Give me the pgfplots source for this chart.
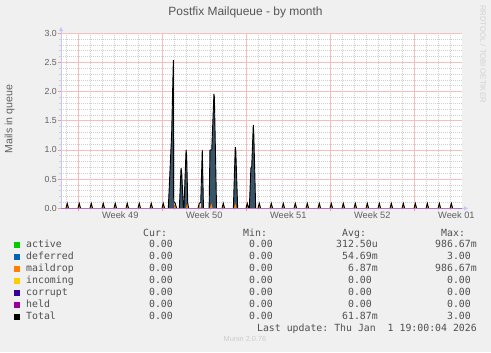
\documentclass[border=0pt]{standalone}
\usepackage{fontspec}
\setmainfont{Liberation Sans}
\setmonofont{DejaVu Sans Mono}
\usepackage{pgfplots}
\pgfplotsset{compat=1.18}
\usetikzlibrary{arrows.meta}
\definecolor{bg}{HTML}{F0F0F0}
\definecolor{gridred}{HTML}{F6BEBE}
\definecolor{tickred}{HTML}{F09A9A}
\definecolor{gridgray}{HTML}{D0D0D0}
\definecolor{axblue}{HTML}{C4C8F2}
\definecolor{titlegray}{HTML}{555555}
\definecolor{labgray}{HTML}{606060}
\definecolor{leggray}{HTML}{505050}
\definecolor{cactive}{HTML}{00CC00}
\definecolor{cdeferred}{HTML}{0066B3}
\definecolor{cmaildrop}{HTML}{FF8000}
\definecolor{cincoming}{HTML}{FFCC00}
\definecolor{ccorrupt}{HTML}{330099}
\definecolor{cheld}{HTML}{990099}
\definecolor{deffill}{HTML}{3A5468}
\definecolor{heldline}{HTML}{B070C8}
\newcommand{\mono}{\fontsize{9.9}{11}\selectfont\ttfamily}
\begin{document}
\begin{tikzpicture}[x=1bp,y=1bp]
\fill[bg] (0,0) rectangle (491,352);
\begin{axis}[
  at={(61bp,143.7bp)}, anchor=south west,
  scale only axis, width=401bp, height=175bp,
  xmin=-1.44, xmax=31.97, ymin=0, ymax=3,
  axis background/.style={fill=white},
  axis line style={draw=none},
  unbounded coords=jump,
  xmajorgrids=true, ymajorgrids=true, xminorgrids=true, yminorgrids=true,
  minor grid style={draw=gridgray, dash pattern=on 1bp off 1bp, line width=0.7bp},
  major grid style={draw=gridred, solid, line width=0.8bp},
  tick align=outside, xtick pos=bottom, ytick pos=left,
  major tick length=3bp, minor tick length=2bp,
  major tick style={draw=tickred, line width=0.8bp},
  minor tick style={draw=gridgray, line width=0.7bp},
  xtick={0,7,14,21,28}, xticklabels={},
  minor xtick={-1,1,2,3,4,5,6,8,9,10,11,12,13,15,16,17,18,19,20,22,23,24,25,26,27,29,30,31},
  extra x ticks={3.5,10.5,17.5,24.5,31.5},
  extra x tick labels={Week 49,Week 50,Week 51,Week 52,Week 01},
  extra x tick style={grid=none, major tick length=0pt},
  xticklabel style={font=\fontsize{9.3}{10}\selectfont, text=labgray, inner sep=0pt, yshift=-3.5bp, anchor=north},
  ytick={0,0.5,1,1.5,2,2.5,3},
  yticklabels={0.0,0.5,1.0,1.5,2.0,2.5,3.0},
  minor ytick={0.1,0.2,0.3,0.4,0.6,0.7,0.8,0.9,1.1,1.2,1.3,1.4,1.6,1.7,1.8,1.9,2.1,2.2,2.3,2.4,2.6,2.7,2.8,2.9},
  yticklabel style={font=\fontsize{8.8}{10}\selectfont, text=labgray, inner sep=0pt, anchor=east, xshift=-1bp},
]
% deferred (area)
\addplot[draw=none, fill=deffill] coordinates {
(-1.5,0) (7.5,0) (7.78,1.29) (7.92,2.54) (7.95,0.1) (8.1,0)
(8.42,0) (8.56,0.69) (8.62,0.6) (8.75,0) (8.8,0) (8.98,1.0) (9.03,0.9) (9.14,0)
(10.2,0) (10.33,1.0) (10.43,0)
(10.9,0) (10.97,1.0) (11.12,1.0) (11.3,1.96) (11.34,1.9) (11.52,0)
(12.92,0) (13.08,1.05) (13.12,1.0) (13.28,0)
(14.25,0) (14.38,0.69) (14.45,0.72) (14.58,1.43) (14.62,1.3) (14.78,0) (32.5,0)
} \closedcycle;
% maildrop (area)
\addplot[draw=none, fill=cmaildrop] coordinates {
(-1.5,0)
(-1.03,0) (-0.92,0.085) (-0.81,0)
(-0.03,0) (0.08,0.085) (0.19,0)
(0.97,0) (1.08,0.085) (1.19,0)
(1.97,0) (2.08,0.085) (2.19,0)
(2.97,0) (3.08,0.085) (3.19,0)
(3.97,0) (4.08,0.085) (4.19,0)
(4.97,0) (5.08,0.085) (5.19,0)
(5.97,0) (6.08,0.085) (6.19,0)
(6.97,0) (7.08,0.085) (7.19,0)
(7.97,0) (8.08,0.085) (8.19,0)
(8.97,0) (9.08,0.085) (9.19,0)
(9.97,0) (10.08,0.085) (10.19,0)
(10.97,0) (11.08,0.085) (11.19,0)
(11.97,0) (12.08,0.085) (12.19,0)
(12.97,0) (13.08,0.085) (13.19,0)
(13.97,0) (14.08,0.085) (14.19,0)
(14.97,0) (15.08,0.085) (15.19,0)
(15.97,0) (16.08,0.085) (16.19,0)
(16.97,0) (17.08,0.085) (17.19,0)
(17.97,0) (18.08,0.085) (18.19,0)
(18.97,0) (19.08,0.085) (19.19,0)
(19.97,0) (20.08,0.085) (20.19,0)
(20.97,0) (21.08,0.085) (21.19,0)
(21.97,0) (22.08,0.085) (22.19,0)
(22.97,0) (23.08,0.085) (23.19,0)
(23.97,0) (24.08,0.085) (24.19,0)
(24.97,0) (25.08,0.085) (25.19,0)
(25.97,0) (26.08,0.085) (26.19,0)
(26.97,0) (27.08,0.085) (27.19,0)
(27.97,0) (28.08,0.085) (28.19,0)
(28.97,0) (29.08,0.085) (29.19,0)
(29.97,0) (30.08,0.085) (30.19,0)
(30.97,0) (31.08,0.085) (31.19,0)
(32.5,0)
} \closedcycle;
% Total (line)
\addplot[draw=black, line width=0.9bp, line join=miter] coordinates {
(-1.03,0) (-0.92,0.085) (-0.81,0) (-0.7,nan)
(-0.03,0) (0.08,0.085) (0.19,0) (0.3,nan)
(0.97,0) (1.08,0.085) (1.19,0) (1.3,nan)
(1.97,0) (2.08,0.085) (2.19,0) (2.3,nan)
(2.97,0) (3.08,0.085) (3.19,0) (3.3,nan)
(3.97,0) (4.08,0.085) (4.19,0) (4.3,nan)
(4.97,0) (5.08,0.085) (5.19,0) (5.3,nan)
(5.97,0) (6.08,0.085) (6.19,0) (6.3,nan)
(6.97,0) (7.08,0.085) (7.19,0) (7.3,nan)
(7.5,0) (7.78,1.29) (7.92,2.54) (7.95,0.12) (8.08,0.085) (8.19,0) (8.3,nan)
(8.42,0) (8.56,0.69) (8.62,0.6) (8.75,0.02) (8.8,0) (8.98,1.0) (9.03,0.9) (9.12,0.1) (9.19,0) (9.3,nan)
(9.97,0) (10.08,0.085) (10.2,0.1) (10.33,1.0) (10.43,0) (10.6,nan)
(10.9,0) (10.97,1.0) (11.12,1.0) (11.3,1.96) (11.34,1.9) (11.52,0) (11.6,nan)
(11.97,0) (12.08,0.085) (12.19,0) (12.3,nan)
(12.92,0) (13.08,1.05) (13.12,1.0) (13.28,0) (13.4,nan)
(13.97,0) (14.08,0.085) (14.19,0) (14.2,nan)
(14.25,0) (14.38,0.69) (14.45,0.72) (14.58,1.43) (14.62,1.3) (14.78,0) (14.9,nan)
(14.97,0) (15.08,0.085) (15.19,0) (15.3,nan)
(15.97,0) (16.08,0.085) (16.19,0) (16.3,nan)
(16.97,0) (17.08,0.085) (17.19,0) (17.3,nan)
(17.97,0) (18.08,0.085) (18.19,0) (18.3,nan)
(18.97,0) (19.08,0.085) (19.19,0) (19.3,nan)
(19.97,0) (20.08,0.085) (20.19,0) (20.3,nan)
(20.97,0) (21.08,0.085) (21.19,0) (21.3,nan)
(21.97,0) (22.08,0.085) (22.19,0) (22.3,nan)
(22.97,0) (23.08,0.085) (23.19,0) (23.3,nan)
(23.97,0) (24.08,0.085) (24.19,0) (24.3,nan)
(24.97,0) (25.08,0.085) (25.19,0) (25.3,nan)
(25.97,0) (26.08,0.085) (26.19,0) (26.3,nan)
(26.97,0) (27.08,0.085) (27.19,0) (27.3,nan)
(27.97,0) (28.08,0.085) (28.19,0) (28.3,nan)
(28.97,0) (29.08,0.085) (29.19,0) (29.3,nan)
(29.97,0) (30.08,0.085) (30.19,0) (30.3,nan)
(30.97,0) (31.08,0.085) (31.19,0)
};
% held (line at zero)
\addplot[draw=heldline, line width=0.9bp] coordinates {(-1.44,0) (31.97,0)};
\end{axis}
% axis lines with arrows
\draw[axblue, line width=0.8bp, -{Latex[length=4.5bp,width=4.5bp]}] (61,143.7) -- (61,325.5);
\draw[axblue, line width=0.8bp, -{Latex[length=4.5bp,width=4.5bp]}] (461.5,143.7) -- (468.5,143.7);
% title and labels
\node[anchor=base, inner sep=0pt, text=titlegray, font=\fontsize{12}{14}\selectfont] at (245.5,337) {Postfix Mailqueue - by month};
\node[rotate=90, inner sep=0pt, text=labgray, font=\fontsize{10.6}{12}\selectfont] at (9.7,233) {Mails in queue};
\node[rotate=-90, inner sep=0pt, text=black!18, font=\fontsize{7.7}{9}\selectfont] at (483,298) {RRDTOOL / TOBI OETIKER};
% legend
\begin{scope}[every node/.style={inner sep=0pt, text=leggray, font=\mono}]
\node[anchor=base west] at (143,116) {Cur:};
\node[anchor=base west] at (243,116) {Min:};
\node[anchor=base west] at (342,116) {Avg:};
\node[anchor=base west] at (441,116) {Max:};
\newcommand{\legrow}[7]{%
  \fill[#2] (14,#1) rectangle (20,#1+5.5);
  \node[anchor=base west] at (26,#1) {#3};
  \node[anchor=base east] at (179,#1) {#4};
  \node[anchor=base east] at (279,#1) {#5};
  \node[anchor=base east] at (378,#1) {#6};
  \node[anchor=base east] at (477,#1) {#7};
}
\legrow{104.3}{cactive}{active}{0.00\phantom{m}}{0.00\phantom{m}}{312.50u}{986.67m}
\legrow{92.3}{cdeferred}{deferred}{0.00\phantom{m}}{0.00\phantom{m}}{54.69m}{3.00\phantom{m}}
\legrow{80.3}{cmaildrop}{maildrop}{0.00\phantom{m}}{0.00\phantom{m}}{6.87m}{986.67m}
\legrow{68.3}{cincoming}{incoming}{0.00\phantom{m}}{0.00\phantom{m}}{0.00\phantom{m}}{0.00\phantom{m}}
\legrow{56.3}{ccorrupt}{corrupt}{0.00\phantom{m}}{0.00\phantom{m}}{0.00\phantom{m}}{0.00\phantom{m}}
\legrow{44.3}{cheld}{held}{0.00\phantom{m}}{0.00\phantom{m}}{0.00\phantom{m}}{0.00\phantom{m}}
\legrow{32.3}{black}{Total}{0.00\phantom{m}}{0.00\phantom{m}}{61.87m}{3.00\phantom{m}}
\node[anchor=base east] at (477,20.3) {Last update: Thu Jan\ \ 1 19:00:04 2026};
\end{scope}
\node[anchor=base, inner sep=0pt, text=black!20, font=\fontsize{7.4}{9}\selectfont] at (245,10.3) {Munin 2.0.76};
\end{tikzpicture}
\end{document}
